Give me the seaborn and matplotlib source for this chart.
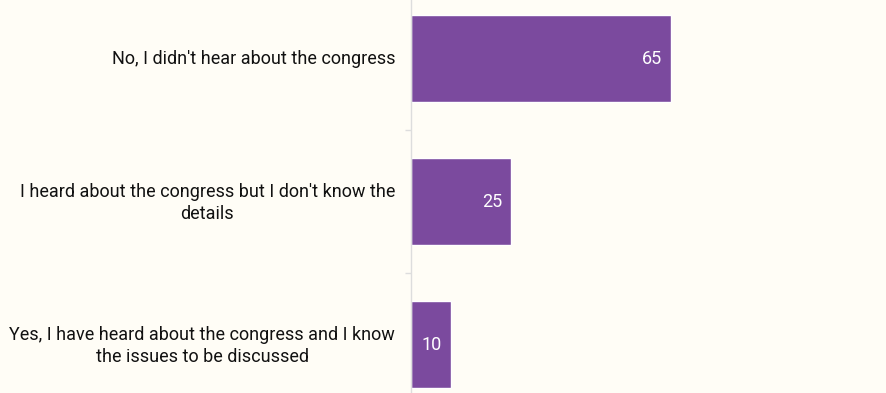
import matplotlib
matplotlib.use("Agg")
import matplotlib.pyplot as plt
import seaborn as sns
import pandas as pd

answers = [
    "No, I didn't hear about the congress",
    "I heard about the congress but I don't know the\ndetails",
    "Yes, I have heard about the congress and I know\nthe issues to be discussed",
]
shares = [65, 25, 10]

bg = "#fffdf6"
bar_color = "#7b4a9e"

df = pd.DataFrame({"answer": answers, "share": shares})

sns.set_theme(style="white")
plt.rcParams["font.family"] = ["Roboto", "DejaVu Sans"]

fig = plt.figure(figsize=(8.87, 3.93), dpi=100, facecolor=bg)
ax = fig.add_axes([411 / 887, 0, 1 - 411 / 887, 1])
ax.set_facecolor(bg)

sns.barplot(data=df, x="share", y="answer", color=bar_color, saturation=1,
            width=0.61, ax=ax, orient="h")

ax.set_xlim(0, 118.8)
ax.set_ylim(2.34, -0.41)

for bar, v in zip(ax.patches, shares):
    ax.annotate(str(v), (bar.get_width(), bar.get_y() + bar.get_height() / 2),
                xytext=(-6.5, -0.5), textcoords="offset points", ha="right", va="center",
                color="white", fontsize=13)

ax.set_xlabel("")
ax.set_ylabel("")
ax.set_xticks([])
ax.tick_params(axis="y", which="major", left=False, length=0, pad=11.5,
               labelsize=13, labelcolor="#111111")
ax.set_yticks([0.5, 1.5], minor=True)
ax.tick_params(axis="y", which="minor", left=True, length=4.5, color="#dddddd", width=1)
for lbl in ax.get_yticklabels():
    lbl.set_multialignment("center")
    lbl.set_linespacing(1.25)
    lbl.set_transform(lbl.get_transform() + matplotlib.transforms.ScaledTranslation(0, 1.5 / 72, fig.dpi_scale_trans))

for s in ["top", "right", "bottom"]:
    ax.spines[s].set_visible(False)
ax.spines["left"].set_color("#dddddd")
ax.spines["left"].set_linewidth(1)

fig.savefig("out.png", dpi=100, facecolor=bg)
